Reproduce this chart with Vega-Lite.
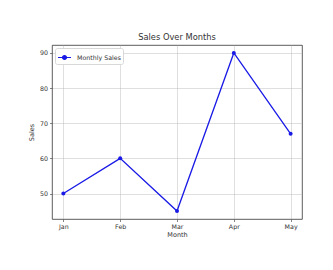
{
  "$schema": "https://vega.github.io/schema/vega-lite/v6.json",
  "width": 250,
  "height": 174,
  "autosize": {"type": "none"},
  "padding": {"left": 52, "top": 45, "right": 31, "bottom": 51},
  "background": "white",
  "title": {"text": "Sales Over Months", "font": "DejaVu Sans", "fontSize": 8.3, "fontWeight": "normal", "color": "#333", "offset": 4},
  "data": {"values": [
    {"Month": "Jan", "Sales": 50},
    {"Month": "Feb", "Sales": 60},
    {"Month": "Mar", "Sales": 45},
    {"Month": "Apr", "Sales": 90},
    {"Month": "May", "Sales": 67}
  ]},
  "encoding": {
    "x": {"field": "Month", "type": "ordinal", "sort": null,
      "scale": {"type": "point", "padding": 0.2},
      "axis": {"title": "Month", "labelAngle": 0, "grid": true}},
    "y": {"field": "Sales", "type": "quantitative",
      "scale": {"domain": [42.75, 92.25], "nice": false, "zero": false},
      "axis": {"title": "Sales", "values": [50, 60, 70, 80, 90], "grid": true}},
    "color": {"datum": "Monthly Sales", "type": "nominal",
      "scale": {"range": ["#1a1ae6"]},
      "legend": {"title": null, "orient": "top-left", "offset": 3,
        "fillColor": "white", "strokeColor": "#d8d8d8", "padding": 2, "cornerRadius": 2,
        "symbolType": "M-1,0H1M-0.3,0A0.3,0.3 0 1,0 0.3,0A0.3,0.3 0 1,0 -0.3,0Z",
        "symbolSize": 170, "symbolStrokeWidth": 1.2, "symbolFillColor": "#1a1ae6", "symbolStrokeColor": "#1a1ae6",
        "labelFont": "DejaVu Sans", "labelFontSize": 6.3, "labelColor": "#333", "labelOffset": 5}}
  },
  "layer": [
    {"mark": {"type": "line", "strokeWidth": 1.3, "color": "#1a1ae6"}},
    {"mark": {"type": "point", "filled": true, "opacity": 1, "size": 16, "shape": "circle", "color": "#1a1ae6"}}
  ],
  "config": {
    "view": {"stroke": "#333", "strokeWidth": 0.8},
    "axis": {
      "domain": false,
      "labelFont": "DejaVu Sans", "labelFontSize": 6.3, "labelColor": "#333", "labelPadding": 2,
      "titleFont": "DejaVu Sans", "titleFontSize": 6.5, "titleFontWeight": "normal", "titleColor": "#333",
      "tickColor": "#333", "tickSize": 2.5, "tickWidth": 0.6,
      "gridColor": "#b0b0b0", "gridWidth": 0.5, "gridOpacity": 0.8
    },
    "axisX": {"titlePadding": 2},
    "axisY": {"titlePadding": 5}
  }
}
